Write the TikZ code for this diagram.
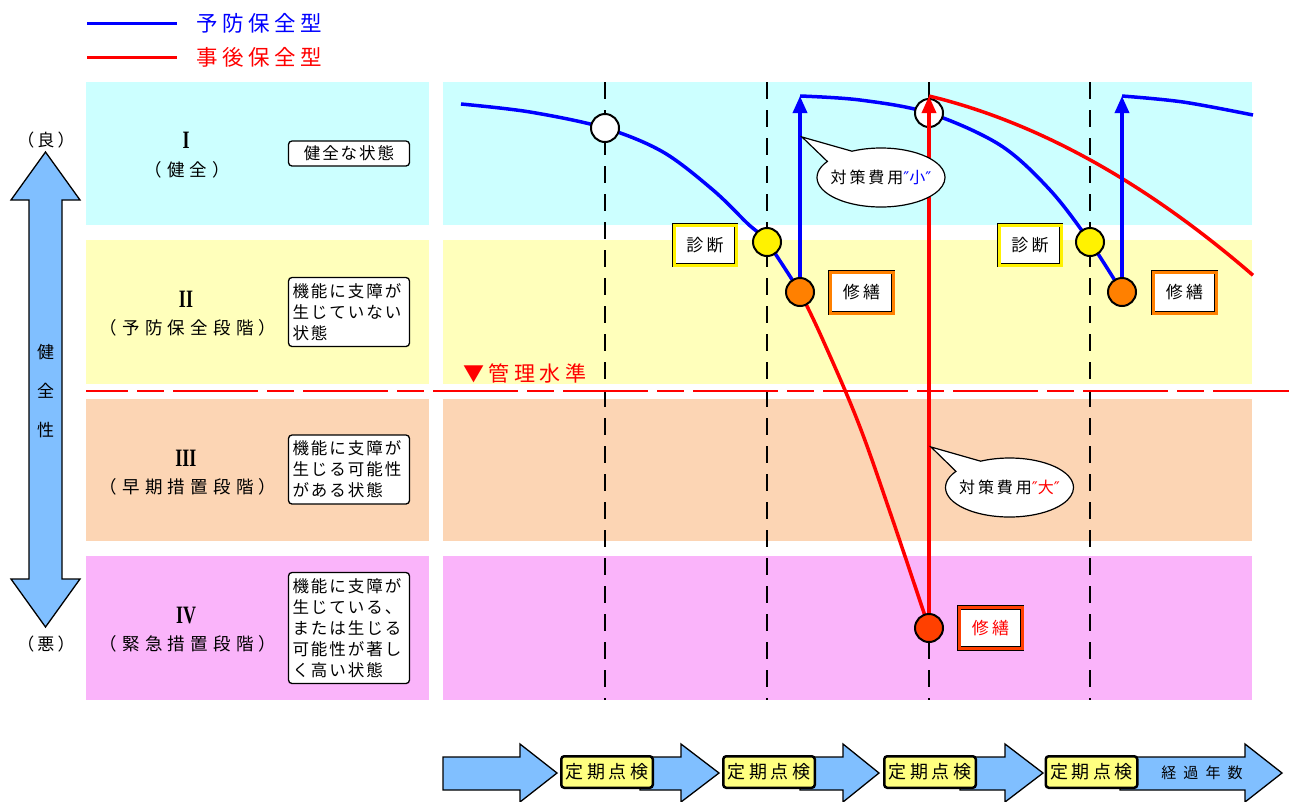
\documentclass[tikz,border=0pt]{standalone}
\usepackage{fontspec}
\setmainfont{Noto Sans CJK JP}
\usetikzlibrary{shapes.callouts,arrows.meta}
\newfontfamily\jp{Noto Sans CJK JP}
\newfontfamily\jpA[LetterSpace=22]{Noto Sans CJK JP}
\newfontfamily\jpB[LetterSpace=12]{Noto Sans CJK JP}
\newfontfamily\jpC[LetterSpace=30]{Noto Sans CJK JP}
\newfontfamily\jpE[LetterSpace=18]{Noto Sans CJK JP}
\newfontfamily\jpF[LetterSpace=20]{Noto Sans CJK JP}
\newfontfamily\jpD[LetterSpace=47]{Noto Sans CJK JP}
\newfontfamily\dv{DejaVu Sans}
\newfontfamily\lser{Liberation Serif}
\newcommand\fsz[1]{\fontsize{#1}{#1}\selectfont}
\newcommand\romn[1]{\scalebox{0.72}[1]{\lser\fsz{25}\bfseries #1}}
\definecolor{bandA}{HTML}{CCFFFF}
\definecolor{bandB}{HTML}{FFFFBB}
\definecolor{bandC}{HTML}{FCD5B4}
\definecolor{bandD}{HTML}{FAB4FA}
\definecolor{arrowblue}{HTML}{80BFFF}
\definecolor{orng}{HTML}{FF8000}
\definecolor{redorng}{HTML}{FF4000}
\definecolor{boxyellow}{HTML}{FFFF80}
\begin{document}
\begin{tikzpicture}[x=1pt,y=-1pt,
  every node/.style={inner sep=0pt, outer sep=0pt},
  bandA/.style={fill=bandA},
  bandB/.style={fill=bandB},
  bandC/.style={fill=bandC},
  bandD/.style={fill=bandD},
  bigarrow/.style={draw=black, line width=1.3pt, fill=arrowblue, line join=miter},
  vdash/.style={draw=black, line width=2pt, dash pattern=on 17pt off 11pt},
  hdash/.style={draw=red, line width=2pt, dash pattern=on 85pt off 9pt on 27pt off 9pt, dash phase=43pt},
  bline/.style={draw=blue, line width=3.5pt},
  rline/.style={draw=red, line width=3.5pt},
  tip/.style={-{Triangle[length=17pt,width=14pt]}},
  circ/.style={circle, draw=black, line width=2pt, minimum size=28pt},
  desc/.style={draw=black, line width=1.3pt, fill=white, rounded corners=3.5pt,
    minimum width=121pt, text width=113pt, inner xsep=3.5pt, inner ysep=2pt,
    align=left, font=\jpB\fontsize{16.5}{21}\selectfont},
  rnum/.style={},
  rlab/.style={font=\jpC\fsz{17.5}},
  diagbox/.style={draw=black, line width=0.7pt, double=yellow, double distance=3pt,
    fill=white, minimum width=62pt, minimum height=40pt, font=\jpE\fsz{17}},
  repbox/.style={draw=black, line width=0.7pt, double=orng, double distance=3pt,
    fill=white, minimum width=63pt, minimum height=41pt, font=\jpE\fsz{17}},
  kenbox/.style={draw=black, line width=2.5pt, fill=boxyellow, rounded corners=3pt,
    minimum width=91.5pt, minimum height=31.5pt, font=\jpF\fsz{18}},
  callout/.style={ellipse callout, draw=black, line width=1.2pt, fill=white,
    minimum width=128pt, minimum height=59pt, callout pointer arc=30,
    font=\jpE\fsz{16}},
]
\useasboundingbox (0,0) rectangle (1289,801);

% legend
\draw[blue, line width=3pt] (87,23) -- (177,23);
\draw[red, line width=3pt] (87,57) -- (177,57);
\node[anchor=west, text=blue, font=\jpA\fsz{21.5}] (lg1) at (196,23) {予防保全型};
\node[anchor=west, text=red, font=\jpA\fsz{21.5}] (lg2) at (196,57) {事後保全型};

% bands
\path[bandA] (86,82) rectangle (429,225);
\path[bandA] (443,82) rectangle (1252,225);
\path[bandB] (86,240) rectangle (429,384);
\path[bandB] (443,240) rectangle (1252,384);
\path[bandC] (86,399) rectangle (429,541);
\path[bandC] (443,399) rectangle (1252,541);
\path[bandD] (86,556) rectangle (429,700);
\path[bandD] (443,556) rectangle (1252,700);

% left big double arrow
\path[bigarrow] (45.5,152) -- (80,200) -- (62,200) -- (62,579) -- (80,579) -- (45.5,627)
  -- (11,579) -- (29,579) -- (29,200) -- (11,200) -- cycle;
\node[font=\jpE\fsz{17}] (good) at (46,140) {（良）};
\node[font=\jpE\fsz{17}] (bad) at (46,644) {（悪）};
\node[align=center, font=\jp\fontsize{17}{39}\selectfont] (kenzen) at (45.5,391) {健\\全\\性};

% roman numerals and labels
\node[rnum] (n1) at (186,140) {\romn{I}};
\node[rlab] (n1t) at (187,170) {（健\kern5pt 全）};
\node[rnum] (n2) at (186,299) {\romn{II}};
\node[rlab] (n2t) at (188,328) {（予防保全段階）};
\node[rnum] (n3) at (186,458) {\romn{III}};
\node[rlab] (n3t) at (188,487) {（早期措置段階）};
\node[rnum] (n4) at (186,615) {\romn{IV}};
\node[rlab] (n4t) at (188,644) {（緊急措置段階）};

% description boxes
\node[desc, align=center, minimum height=25pt] (d1) at (349,153.5) {健全な状態};
\node[desc, minimum height=69pt] (d2) at (349,312) {機能に支障が\\生じていない\\状態};
\node[desc, minimum height=69pt] (d3) at (349,469.5) {機能に支障が\\生じる可能性\\がある状態};
\node[desc, minimum height=111pt] (d4) at (349,628) {機能に支障が\\生じている、\\または生じる\\可能性が著し\\く高い状態};

% vertical dashed lines
\foreach \x in {605,767,929,1090} {\draw[vdash] (\x,82) -- (\x,700);}

% management level
\draw[hdash] (86,391) -- (1289,391);
\node[anchor=west, text=red, font=\jpA\fsz{21}] (kanri) at (463,373) {▼管理水準};

% key coordinates
\coordinate (pW1) at (605,128);
\coordinate (pW2) at (929,113);
\coordinate (pY1) at (767,242);
\coordinate (pY2) at (1090,242);
\coordinate (pO1) at (800,292);
\coordinate (pO2) at (1122,292);
\coordinate (pR) at (929,628);
\coordinate (tB1) at (800,96);
\coordinate (tB2) at (1122,96);
\coordinate (tR) at (929,96);
\coordinate (bS) at (461,104);
\coordinate (bE) at (1253,115);

% blue curves
\draw[bline] plot[smooth, tension=0.55] coordinates {(bS) (530,112) (pW1) (663,152) (713,190) (747,223) (pY1) (pO1)};
\draw[bline] plot[smooth, tension=0.55] coordinates {(tB1) (860,100) (pW2) (1000,145) (1050,190) (pY2) (pO2)};
\draw[bline] plot[smooth, tension=0.55] coordinates {(tB2) (1183,102) (bE)};

% white circles
\node[circ, fill=white] (w1) at (pW1) {};
\node[circ, fill=white] (w2) at (pW2) {};

% red curves and arrows
\draw[rline] plot[smooth, tension=0.6] coordinates {(pO1) (822,338) (858,422) (891,515) (pR)};
\draw[rline] (tR) -- plot[domain=0:324, samples=40, smooth] ({929+\x}, {96+0.2418*\x+0.000959*\x*\x});
\draw[rline, tip] (pR) -- (tR);
\draw[bline, tip] (pO1) -- (tB1);
\draw[bline, tip] (pO2) -- (tB2);

% coloured circles
\node[circ, fill=yellow] (y1) at (pY1) {};
\node[circ, fill=yellow] (y2) at (pY2) {};
\node[circ, fill=orng] (o1) at (pO1) {};
\node[circ, fill=orng] (o2) at (pO2) {};
\node[circ, fill=redorng] (r1) at (pR) {};

% labels
\node[diagbox] (dg1) at (705,245) {診断};
\node[diagbox] (dg2) at (1030,245) {診断};
\node[repbox] (rp1) at (861.5,292.5) {修繕};
\node[repbox] (rp2) at (1184.5,292.5) {修繕};
\node[repbox, double=redorng, text=red] (rp3) at (990.5,628) {修繕};

% callouts
\node[callout, callout absolute pointer={(802,137)}] (cl1) at (881,177.5)
  {\makebox[0pt]{対策費用\textcolor{blue}{{\dv ″}小{\dv ″}}}};
\node[callout, callout absolute pointer={(931,447)}] (cl2) at (1009.5,487.5)
  {\makebox[0pt]{対策費用\textcolor{red}{{\dv ″}大{\dv ″}}}};

% bottom timeline
\path[bigarrow] (443,757) -- (520,757) -- (520,744) -- (557,773) -- (520,802) -- (520,790) -- (443,790) -- cycle;
\path[bigarrow] (640,757) -- (681,757) -- (681,744) -- (719,773) -- (681,802) -- (681,790) -- (640,790) -- cycle;
\path[bigarrow] (800,757) -- (843,757) -- (843,744) -- (879,773) -- (843,802) -- (843,790) -- (800,790) -- cycle;
\path[bigarrow] (960,757) -- (1005,757) -- (1005,744) -- (1043,773) -- (1005,802) -- (1005,790) -- (960,790) -- cycle;
\path[bigarrow] (1120,757) -- (1245,757) -- (1245,744) -- (1282,773) -- (1245,802) -- (1245,790) -- (1120,790) -- cycle;
\node[kenbox] (k1) at (607,772) {定期点検};
\node[kenbox] (k2) at (769,772) {定期点検};
\node[kenbox] (k3) at (930,772) {定期点検};
\node[kenbox] (k4) at (1091.5,772) {定期点検};
\node[font=\jpD\fsz{15}] (years) at (1202,773) {経過年数};
\end{tikzpicture}
\end{document}
